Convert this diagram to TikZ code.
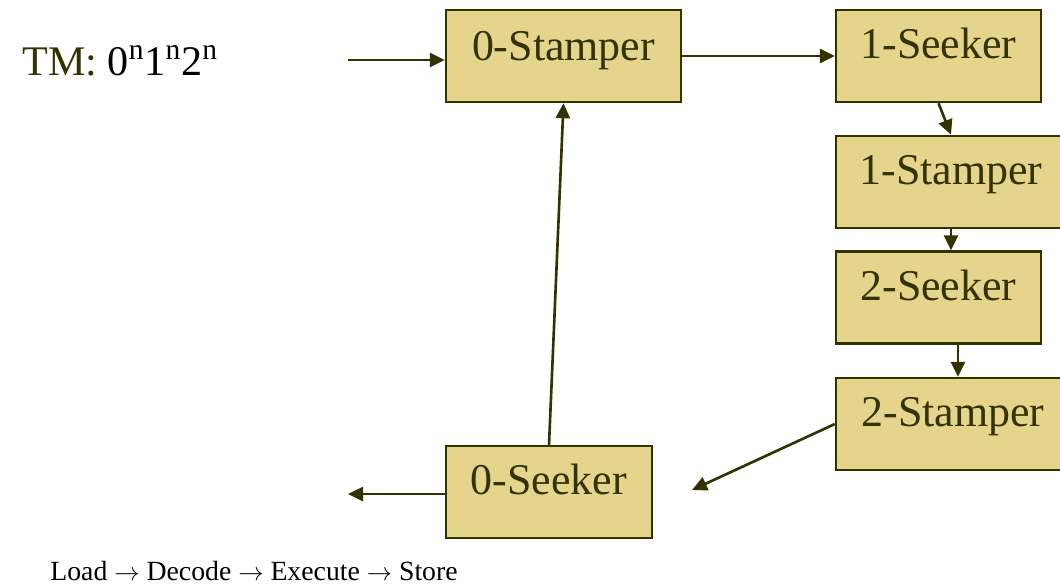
\documentclass[tikz,border=0pt]{standalone}
\usepackage{fontspec}
\setmainfont{Liberation Serif}
\usetikzlibrary{arrows.meta}
\definecolor{boxfill}{HTML}{E4D48C}
\definecolor{darkolive}{HTML}{333300}
\begin{document}
\begin{tikzpicture}[x=0.02cm, y=-0.02cm,
    box/.style={draw=darkolive, line width=1.4pt, fill=boxfill,
                minimum height=1.84cm, inner sep=0pt},
    boxtext/.style={anchor=base, text=darkolive,
                    font=\fontsize{25}{30}\selectfont},
    arr/.style={-{Triangle[length=0.3cm, width=0.28cm]},
                draw=darkolive, line width=1.5pt}]

    \useasboundingbox (0, 0) rectangle (1060, 586);

    % Kasten
    \node[box, minimum width=4.7cm] (stamp0) at (563.5, 56) {};
    \node[box, minimum width=4.1cm] (seek1) at (938.5, 56) {};
    \node[box, minimum width=4.6cm] (stamp1) at (951, 182) {};
    \node[box, minimum width=4.1cm] (seek2) at (938.5, 297.5) {};
    \node[box, minimum width=4.88cm] (stamp2) at (958, 424) {};
    \node[box, minimum width=4.12cm] (seek0) at (549, 492) {};

    % Beschriftung
    \node[boxtext] at ([yshift=-1.04cm]stamp0.north) {0-Stamper};
    \node[boxtext] at ([yshift=-1.0cm]seek1.north) {1-Seeker};
    \node[boxtext] at ([yshift=-1.0cm]stamp1.north) {1-Stamper};
    \node[boxtext] at ([yshift=-1.0cm]seek2.north) {2-Seeker};
    \node[boxtext] at ([xshift=-0.1cm, yshift=-1.0cm]stamp2.north) {2-Stamper};
    \node[boxtext] at ([yshift=-1.0cm]seek0.north) {0-Seeker};

    \node[anchor=base west, inner sep=0pt, font=\fontsize{24}{29}\selectfont] (title) at (22, 75)
        {\textcolor{darkolive}{TM:} 0\textsuperscript{n}1\textsuperscript{n}2\textsuperscript{n}};
    \node[anchor=base west, inner sep=0pt, font=\fontsize{15.8}{19}\selectfont] (cycle) at (50, 580)
        {Load $\rightarrow$ Decode $\rightarrow$ Execute $\rightarrow$ Store};

    % Pfeile
    \coordinate (in) at (348, 60);
    \coordinate (out0) at (348, 494);
    \coordinate (out2) at (692, 490);
    \draw[arr] (in) -- (in -| stamp0.west);
    \draw[arr] (stamp0.east) -- (seek1.west);
    \draw[arr] (seek1.south) -- (stamp1.north);
    \draw[arr] (stamp1.south) -- (stamp1.south |- seek2.north);
    \draw[arr] (stamp2.north |- seek2.south) -- (stamp2.north);
    \draw[arr] (stamp2.west) -- (out2);
    \draw[arr] (seek0.north) -- (stamp0.south);
    \draw[arr] (seek0.west |- out0) -- (out0);

\end{tikzpicture}
\end{document}
